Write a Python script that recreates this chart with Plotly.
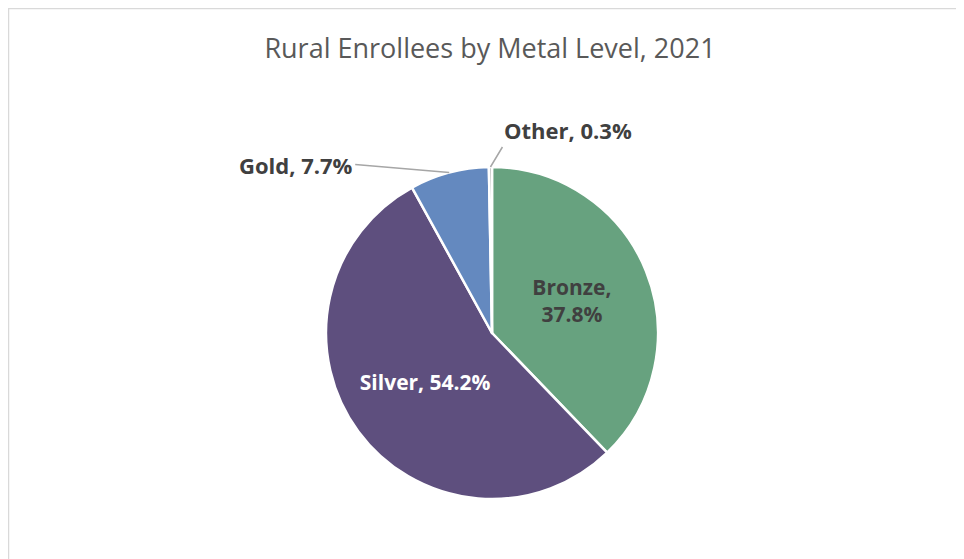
import math
import plotly.graph_objects as go

labels = ["Bronze", "Silver", "Gold", "Other"]
values = [37.8, 54.2, 7.7, 0.3]
colors = ["#67A27F", "#5E4F7E", "#6489BF", "#A5A5A5"]
templates = ["%{label},<br>%{percent:.1%}", "%{label}, %{percent:.1%}", "", ""]
text_colors = ["#404040", "#FFFFFF", "#404040", "#404040"]

# page body has an 8px margin, so lay out in shifted pixel coords
OFF = 8
W, H = 964 - OFF, 559 - OFF
cx, cy, r = 492 - OFF, 333 - OFF, 166
FONT = "Open Sans"

fig = go.Figure()
fig.add_trace(go.Pie(
    labels=labels, values=values, sort=False, direction="clockwise", rotation=0,
    marker=dict(colors=colors, line=dict(color="white", width=2.5)),
    textposition="inside", texttemplate=templates,
    textfont=dict(family=FONT, size=21, color=text_colors, weight="bold"),
    insidetextorientation="horizontal",
    hoverinfo="label+percent", showlegend=False,
    domain=dict(x=[(cx - r) / W, (cx + r) / W], y=[1 - (cy + r) / H, 1 - (cy - r) / H]),
))

# outside labels for the small slices, leader line to the slice's mid-angle on the rim
total = sum(values)
callouts = {"Gold": dict(ax=-94, ay=-8, xanchor="right", yanchor="middle"),
            "Other": dict(ax=12, ay=-20, xanchor="left", yanchor="bottom")}
cum = 0
for lab, v in zip(labels, values):
    mid = (cum + v / 2) / total * 2 * math.pi
    cum += v
    if lab not in callouts:
        continue
    px = cx + r * math.sin(mid)
    py = cy - r * math.cos(mid)
    c = callouts[lab]
    fig.add_annotation(
        x=px / W, y=1 - py / H, xref="paper", yref="paper",
        text=f"<b>{lab}, {v / total * 100:.1f}%</b>",
        showarrow=True, arrowhead=0, arrowwidth=1.5, arrowcolor="#A6A6A6",
        ax=c["ax"], ay=c["ay"], xanchor=c["xanchor"], yanchor=c["yanchor"],
        font=dict(family=FONT, size=22, color="#404040"),
    )

fig.update_layout(
    width=W, height=H,
    margin=dict(l=0, r=0, t=0, b=0),
    paper_bgcolor="white",
    title=dict(text="Rural Enrollees by Metal Level, 2021", x=(490 - OFF) / W, xanchor="center",
               y=1 - (49 - OFF) / H, yanchor="middle",
               font=dict(family=FONT, size=27, color="#595959")),
    shapes=[dict(type="rect", xref="paper", yref="paper",
                 x0=0.5 / W, x1=1.01, y0=-0.01, y1=1 - 0.5 / H,
                 line=dict(color="#D9D9D9", width=1.5))],
)

fig.write_html("out.html")
